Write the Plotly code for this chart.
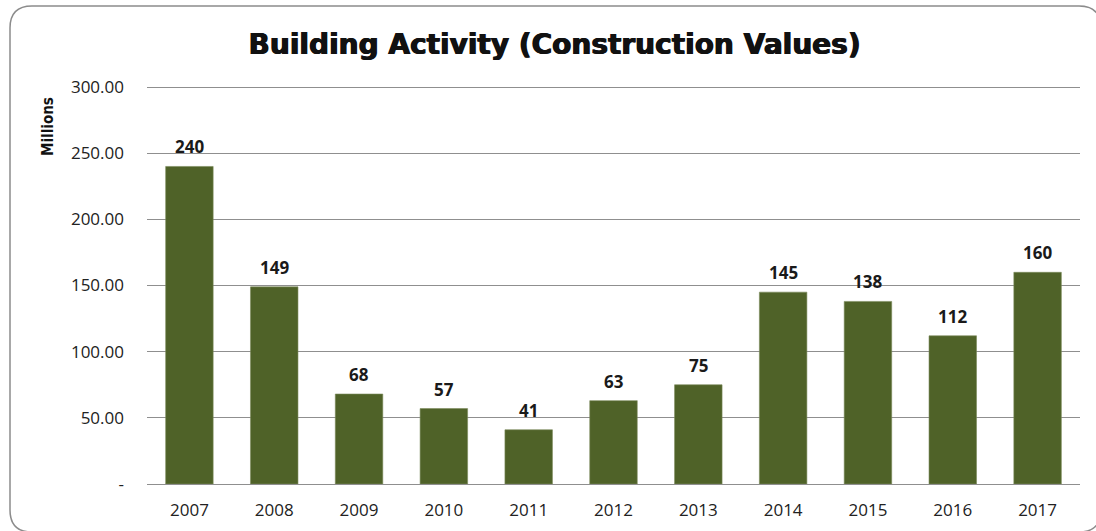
import plotly.graph_objects as go

years = ["2007", "2008", "2009", "2010", "2011", "2012", "2013", "2014", "2015", "2016", "2017"]
values = [240, 149, 68, 57, 41, 63, 75, 145, 138, 112, 160]
tick_vals = [0, 50, 100, 150, 200, 250, 300]
tick_text = ["-", "50.00", "100.00", "150.00", "200.00", "250.00", "300.00"]

W, H = 1096, 531
L, R, T, B = 147, 16, 86, 47
pw, ph = W - L - R, H - T - B
YMAX = 300.8

def px(x):
    return (x - L) / pw

def py(y):
    return (H - B - y) / ph

fig = go.Figure()
fig.add_trace(go.Bar(
    x=years, y=values,
    marker=dict(color="#4F6228", line=dict(color="#7a8a5a", width=0.6)),
    width=0.56,
    hoverinfo="x+y",
))

for i, v in enumerate(values):
    fig.add_annotation(
        x=i, y=v, text=f"<b>{v}</b>", showarrow=False,
        yanchor="bottom", yshift=6,
        font=dict(family="Open Sans, DejaVu Sans", size=17, color="#1a1a1a"),
    )

# y-axis label placed near the top like the reference
fig.add_annotation(
    x=px(48), y=py(127), xref="paper", yref="paper", text="<b>Millions</b>",
    textangle=-90, showarrow=False, xanchor="center", yanchor="middle",
    font=dict(family="DejaVu Sans Condensed, DejaVu Sans", size=15, color="#111111"),
)

# rounded border
x0, x1, y0, y1, r = 10, 1101, 6, 532, 22
path = (f"M {px(x0+r)},{py(y0)} L {px(x1-r)},{py(y0)} Q {px(x1)},{py(y0)} {px(x1)},{py(y0+r)} "
        f"L {px(x1)},{py(y1-r)} Q {px(x1)},{py(y1)} {px(x1-r)},{py(y1)} "
        f"L {px(x0+r)},{py(y1)} Q {px(x0)},{py(y1)} {px(x0)},{py(y1-r)} "
        f"L {px(x0)},{py(y0+r)} Q {px(x0)},{py(y0)} {px(x0+r)},{py(y0)} Z")
fig.add_shape(type="path", path=path, xref="paper", yref="paper",
              line=dict(color="#8c8c8c", width=1.5), layer="below")

fig.update_layout(
    width=W, height=H,
    margin=dict(l=L, r=R, t=T, b=B, autoexpand=False),
    paper_bgcolor="white", plot_bgcolor="white",
    title=dict(text="<b>Building Activity (Construction Values)</b>",
               x=554.5 / W, xref="container", xanchor="center",
               y=1 - 44 / H, yref="container", yanchor="middle",
               font=dict(family="DejaVu Sans", size=28, color="#111111",
                         shadow="0.7px 0 0 #111111, -0.5px 0 0 #111111")),
    bargap=0.44,
    showlegend=False,
    xaxis=dict(
        type="category", automargin=False, range=[-0.5, len(years) - 0.5],
        showgrid=False, showline=False, zeroline=False,
        tickfont=dict(family="Open Sans, DejaVu Sans", size=17, color="#222222"),
        ticks="", ticklabelstandoff=14,
    ),
    yaxis=dict(
        range=[0, YMAX], tickvals=tick_vals, ticktext=tick_text, automargin=False,
        showgrid=True, gridcolor="#8f8f8f", gridwidth=1.2,
        zeroline=True, zerolinecolor="#8f8f8f", zerolinewidth=1.2,
        showline=False, ticks="", ticklabelstandoff=22,
        tickfont=dict(family="Open Sans, DejaVu Sans", size=17, color="#222222"),
    ),
)

fig.write_html("out.html", config={"displayModeBar": False},
               post_script="document.body.style.margin='0';")
